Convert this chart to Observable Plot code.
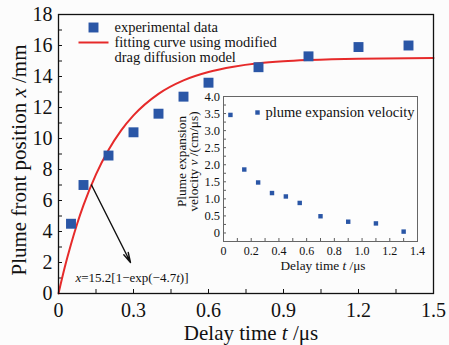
<!DOCTYPE html>
<html><head><meta charset="utf-8">
<script src="https://cdn.jsdelivr.net/npm/d3@7"></script>
<script src="https://cdn.jsdelivr.net/npm/@observablehq/plot@0.6"></script>
<style>
html,body{margin:0;padding:0;background:#fcfcfc;}
#wrap{position:relative;width:449px;height:345px;overflow:hidden;}
#wrap svg{position:absolute;}
#wrap svg, #wrap svg text, #wrap svg tspan{font-family:"Liberation Serif","DejaVu Serif",serif !important;}
</style></head><body><div id="wrap"></div>
<script>
// ---- data ----
const delayTime     = [0.05, 0.1, 0.2, 0.3, 0.4, 0.5, 0.6, 0.8, 1.0, 1.2, 1.4];
const frontPosition = [4.5, 7.0, 8.9, 10.4, 11.6, 12.7, 13.6, 14.6, 15.3, 15.9, 16.0];

const fitTime     = [0, 0.025, 0.05, 0.075, 0.1, 0.15, 0.2, 0.25, 0.3, 0.4, 0.5, 0.6, 0.7, 0.8, 0.9, 1.0, 1.2, 1.5];
const fitPosition = [0, 1.69, 3.18, 4.52, 5.70, 7.69, 9.26, 10.51, 11.49, 12.88, 13.75, 14.29, 14.63, 14.85, 14.98, 15.06, 15.15, 15.19];

const velTime  = [0.05, 0.15, 0.25, 0.35, 0.45, 0.55, 0.7, 0.9, 1.1, 1.3];
const velocity = [3.46, 1.86, 1.48, 1.17, 1.07, 0.88, 0.49, 0.33, 0.28, 0.04];

const mainXTicks = [0, 0.3, 0.6, 0.9, 1.2, 1.5];
const mainYTicks = [0, 2, 4, 6, 8, 10, 12, 14, 16, 18];
const mainXTickMarks = [0.15, 0.3, 0.45, 0.6, 0.75, 0.9, 1.05, 1.2, 1.35];
const mainYTickMarks = [1, 2, 3, 4, 5, 6, 7, 8, 9, 10, 11, 12, 13, 14, 15, 16, 17];
const insetXTicks = [0, 0.2, 0.4, 0.6, 0.8, 1.0, 1.2, 1.4];
const insetYTicks = [0, 0.5, 1.0, 1.5, 2.0, 2.5, 3.0, 3.5, 4.0];
const insetXTickMarks = [0.1, 0.2, 0.3, 0.4, 0.5, 0.6, 0.7, 0.8, 0.9, 1.0, 1.1, 1.2, 1.3];
const insetYTickMarks = [0, 0.25, 0.5, 0.75, 1, 1.25, 1.5, 1.75, 2, 2.25, 2.5, 2.75, 3, 3.25, 3.5, 3.75];

// annotation arrow (data units) and formula label
const arrowFrom = {t: 0.132, x: 7.0};
const arrowTo   = {t: 0.288, x: 2.0};
const formulaAt = {t: 0.068, x: 1.03};
const formulaText = "x=15.2[1−exp(−4.7t)]";

const BLUE = "#2a56a6", RED = "#e62a2a", INK = "#111";
const FONT = "Liberation Serif";
const fmt = d => d === 0 ? "0" : d.toFixed(1);

const experimental = delayTime.map((t, i) => ({t, x: frontPosition[i]}));
const fit = fitTime.map((t, i) => ({t, x: fitPosition[i]}));
const vel = velTime.map((t, i) => ({t, v: velocity[i]}));

const lineSymbol = {draw(ctx) { ctx.moveTo(-15, 0); ctx.lineTo(15, 0); }};

// ---- main chart ----
const mW = 449, mH = 345, mL = 58, mR = 16, mT = 14, mB = 52;
const fW = mW - mL - mR, fH = mH - mT - mB;
const main = Plot.plot({
  width: mW, height: mH,
  marginLeft: mL, marginRight: mR, marginTop: mT, marginBottom: mB,
  x: {domain: [0, 1.5]},
  y: {domain: [0, 18]},
  style: {fontFamily: FONT, fontSize: "20px", background: "transparent", color: INK, overflow: "visible"},
  marks: [
    Plot.tickX(mainXTickMarks, {x: d => d, insetTop: fH - 4, stroke: INK, strokeWidth: 1}),
    Plot.tickY(mainYTickMarks, {y: d => d, insetRight: fW - 4, stroke: INK, strokeWidth: 1}),
    Plot.axisX({ticks: mainXTicks, tickSize: 0, tickPadding: 9, tickFormat: fmt, fontSize: 20, label: null}),
    Plot.axisY({ticks: mainYTicks, tickSize: 0, tickPadding: 6, fontSize: 20, label: null}),
    Plot.line(fit, {x: "t", y: "x", stroke: RED, strokeWidth: 2, curve: "monotone-x"}),
    Plot.dot(experimental, {x: "t", y: "x", symbol: "square", r: 5.6, fill: BLUE, stroke: "none"}),
    Plot.arrow([0], {x1: () => arrowFrom.t, y1: () => arrowFrom.x, x2: () => arrowTo.t, y2: () => arrowTo.x,
      stroke: INK, strokeWidth: 1.4, headLength: 11, headAngle: 28}),
    Plot.text([formulaText], {x: () => formulaAt.t, y: () => formulaAt.x, text: d => d, textAnchor: "start", fontSize: 13}),
    Plot.text(["Plume front position x /mm"], {frameAnchor: "left", text: d => d, rotate: -90, dx: -39, dy: 6, fontSize: 21, textAnchor: "middle", lineAnchor: "middle"}),
    Plot.text(["Delay time t /μs"], {frameAnchor: "bottom", text: d => d, dx: 5, dy: 40, fontSize: 21, textAnchor: "middle", lineAnchor: "middle"}),
    // legend
    Plot.dot([0], {frameAnchor: "top-left", dx: 35, dy: 13, symbol: "square", r: 5.6, fill: BLUE, stroke: "none"}),
    Plot.text(["experimental data"], {frameAnchor: "top-left", text: d => d, dx: 56, dy: 13, textAnchor: "start", lineAnchor: "middle", fontSize: 14.5}),
    Plot.dot([0], {frameAnchor: "top-left", dx: 35, dy: 28, symbol: lineSymbol, fill: "none", stroke: RED, strokeWidth: 2}),
    Plot.text(["fitting curve using modified"], {frameAnchor: "top-left", text: d => d, dx: 56, dy: 28, textAnchor: "start", lineAnchor: "middle", fontSize: 14.5}),
    Plot.text(["drag diffusion model"], {frameAnchor: "top-left", text: d => d, dx: 56, dy: 43, textAnchor: "start", lineAnchor: "middle", fontSize: 14.5}),
    Plot.frame({stroke: INK, strokeWidth: 1.3})
  ]
});
main.style.left = "0px"; main.style.top = "0px";

// ---- inset chart ----
const iW = 260, iH = 195, iL = 58, iR = 8, iT = 16, iB = 34;
const ifW = iW - iL - iR, ifH = iH - iT - iB;
const inset = Plot.plot({
  width: iW, height: iH,
  marginLeft: iL, marginRight: iR, marginTop: iT, marginBottom: iB,
  x: {domain: [0, 1.4]},
  y: {domain: [-0.25, 4.0]},
  style: {fontFamily: FONT, fontSize: "12px", background: "transparent", color: INK, overflow: "visible"},
  marks: [
    Plot.frame({fill: "#fdfdfd", stroke: "none"}),
    Plot.tickX(insetXTickMarks, {x: d => d, insetTop: ifH - 3, stroke: "#333", strokeWidth: 0.8}),
    Plot.tickY(insetYTickMarks, {y: d => d, insetRight: ifW - 3, stroke: "#333", strokeWidth: 0.8}),
    Plot.axisX({ticks: insetXTicks, tickSize: 0, tickPadding: 5, tickFormat: fmt, fontSize: 12, label: null}),
    Plot.axisY({ticks: insetYTicks, tickSize: 0, tickPadding: 3.5, tickFormat: fmt, fontSize: 12.5, label: null}),
    Plot.dot(vel, {x: "t", y: "v", symbol: "square", r: 2.5, fill: BLUE, stroke: "none"}),
    Plot.dot([0], {frameAnchor: "top-left", dx: 34, dy: 16, symbol: "square", r: 2.5, fill: BLUE, stroke: "none"}),
    Plot.text(["plume expansion velocity"], {frameAnchor: "top-left", text: d => d, dx: 42, dy: 16, textAnchor: "start", lineAnchor: "middle", fontSize: 14.5}),
    Plot.text(["Plume expansion\nvelocity v /(cm/μs)"], {frameAnchor: "left", text: d => d, rotate: -90, dx: -35, dy: -7.5, fontSize: 13.3, lineHeight: 0.9, textAnchor: "middle", lineAnchor: "middle"}),
    Plot.text(["Delay time t /μs"], {frameAnchor: "bottom", text: d => d, dx: 2.5, dy: 24, fontSize: 13.3, textAnchor: "middle", lineAnchor: "middle"}),
    Plot.frame({stroke: "#666", strokeWidth: 1})
  ]
});
inset.style.left = "165px"; inset.style.top = "80px";

const wrap = document.getElementById("wrap");
wrap.appendChild(main);
wrap.appendChild(inset);

// italic variables inside labels
function italicize(svg, parts) {
  const full = parts.map(p => p[0]).join("");
  svg.querySelectorAll("text, tspan").forEach(el => {
    if (el.childNodes.length === 1 && el.firstChild.nodeType === 3 && el.textContent === full) {
      el.textContent = "";
      for (const [s, it] of parts) {
        const ts = document.createElementNS("http://www.w3.org/2000/svg", "tspan");
        ts.textContent = s;
        if (it) ts.setAttribute("font-style", "italic");
        el.appendChild(ts);
      }
    }
  });
}
italicize(main, [["Plume front position ", false], ["x", true], [" /mm", false]]);
italicize(main, [["Delay time ", false], ["t", true], [" /μs", false]]);
italicize(main, [["x", true], ["=15.2[1−exp(−4.7", false], ["t", true], [")]", false]]);
italicize(inset, [["Delay time ", false], ["t", true], [" /μs", false]]);
italicize(inset, [["velocity ", false], ["v", true], [" /(cm/μs)", false]]);
</script></body></html>
